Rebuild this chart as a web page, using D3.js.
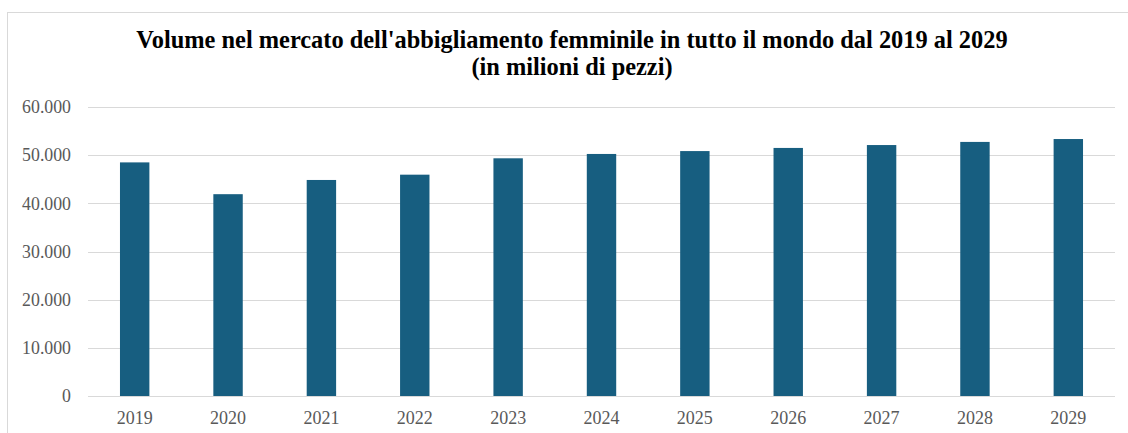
<!DOCTYPE html>
<html><head><meta charset="utf-8">
<script src="https://cdn.jsdelivr.net/npm/d3@7"></script>
<style>html,body{margin:0;padding:0;background:#fff;overflow:hidden}</style>
</head><body>
<svg id="chart" width="1128" height="433"></svg>
<script>
const years = ["2019","2020","2021","2022","2023","2024","2025","2026","2027","2028","2029"];
const volumes = [48500, 41900, 44850, 45950, 49350, 50250, 50850, 51500, 52100, 52750, 53350];
const yTicks = [0, 10000, 20000, 30000, 40000, 50000, 60000];
const titleLines = ["Volume nel mercato dell'abbigliamento femminile in tutto il mondo dal 2019 al 2029", "(in milioni di pezzi)"];

const svg = d3.select("#chart");
svg.append("rect").attr("x", 7.5).attr("y", 12.5).attr("width", 1140).attr("height", 440)
  .attr("fill", "#fff").attr("stroke", "#d9d9d9").attr("stroke-width", 1);

const x = d3.scaleBand().domain(years).range([88, 1115]).paddingInner(0.685).paddingOuter(0.3425);
const y = d3.scaleLinear().domain([0, 60000]).range([396, 107]);

const fmt = v => v === 0 ? "0" : d3.format(",")(v).replace(/,/g, ".");
const serif = "'Liberation Serif', 'Times New Roman', serif";

// gridlines
svg.append("g").selectAll("line").data(yTicks).join("line")
  .attr("x1", 88).attr("x2", 1115)
  .attr("y1", d => Math.round(y(d)) + 0.5).attr("y2", d => Math.round(y(d)) + 0.5)
  .attr("stroke", "#d9d9d9").attr("stroke-width", 1);

// y axis
const yAxis = svg.append("g").attr("transform", "translate(88,0)")
  .call(d3.axisLeft(y).tickValues(yTicks).tickFormat(fmt).tickSize(0).tickPadding(17));
yAxis.select(".domain").remove();
yAxis.selectAll("text").attr("font-family", serif).attr("font-size", 17.8).attr("fill", "#595959");

// bars
svg.append("g").selectAll("rect").data(years).join("rect")
  .attr("x", d => x(d)).attr("width", x.bandwidth())
  .attr("y", (d, i) => y(volumes[i])).attr("height", (d, i) => y(0) - y(volumes[i]))
  .attr("fill", "#175e80");

// x axis
const xAxis = svg.append("g").attr("transform", "translate(0,396)")
  .call(d3.axisBottom(x).tickSize(0).tickPadding(15));
xAxis.select(".domain").remove();
xAxis.selectAll("text").attr("font-family", serif).attr("font-size", 18).attr("fill", "#595959");

// title
svg.append("g").selectAll("text").data(titleLines).join("text")
  .attr("x", 572).attr("y", (d, i) => 48 + i * 27)
  .attr("text-anchor", "middle")
  .attr("font-family", serif).attr("font-weight", "bold").attr("font-size", 24.4)
  .attr("fill", "#000").text(d => d);
</script>
</body></html>
